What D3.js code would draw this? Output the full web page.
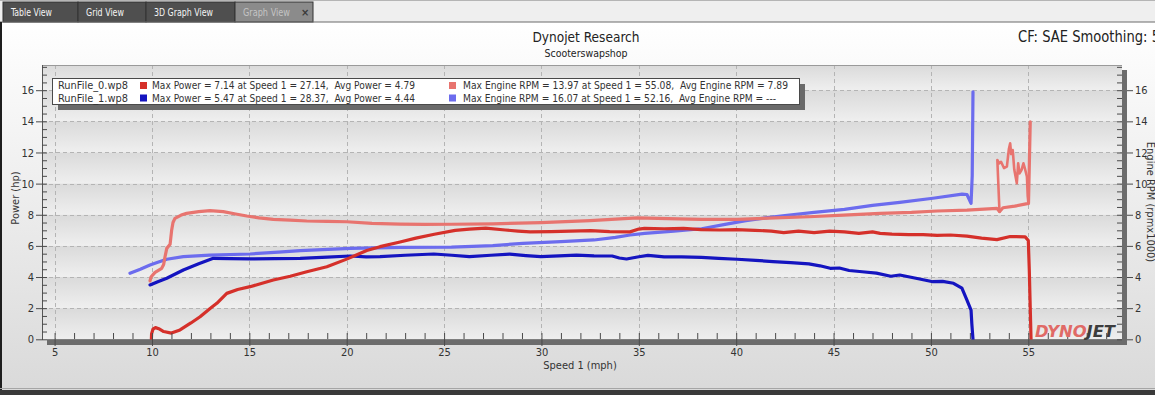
<!DOCTYPE html>
<html>
<head>
<meta charset="utf-8">
<script src="https://cdn.jsdelivr.net/npm/d3@7"></script>
<style>
  body { margin: 0; overflow: hidden; background: #fff; }
  text { font-family: "DejaVu Sans Condensed", "DejaVu Sans", sans-serif; }
  .pre { white-space: pre; }
</style>
</head>
<body>
<svg id="chart"></svg>
<script>
(function (d3) {
  'use strict';

  // ---- data ----
  var tabNames = ["Table View", "Grid View", "3D Graph View", "Graph View"];
  var xTicks = [5, 10, 15, 20, 25, 30, 35, 40, 45, 50, 55];
  var yTicks = [0, 2, 4, 6, 8, 10, 12, 14, 16];

  var run0PowerSpeed = [9.97, 9.98, 10.05, 10.18, 10.35, 10.6, 11.0, 11.44, 12.0, 12.47, 13.0, 13.33, 13.84, 14.4, 15.04, 16.23, 17.1, 17.95, 18.98, 20.0, 21.03, 21.71, 22.74, 23.55, 24.5, 25.57, 26.3, 27.14, 28.14, 28.8, 29.42, 30.5, 31.5, 32.53, 33.5, 34.55, 35.0, 35.29, 36.3, 37.3, 38.2, 39.14, 40.0, 40.97, 41.8, 42.44, 43.2, 44.0, 44.8, 45.56, 46.3, 47.0, 47.39, 48.0, 48.86, 49.6, 50.32, 51.0, 51.85, 52.6, 53.39, 54.07, 54.84, 55.0, 55.05, 55.1, 55.14];
  var run0Power      = [0.0, 0.35, 0.65, 0.75, 0.68, 0.5, 0.4, 0.6, 1.05, 1.45, 2.0, 2.31, 2.95, 3.2, 3.38, 3.81, 4.05, 4.34, 4.66, 5.15, 5.7, 5.95, 6.25, 6.5, 6.75, 7.0, 7.08, 7.14, 7.02, 6.95, 6.9, 6.92, 6.95, 6.98, 6.92, 6.9, 7.08, 7.13, 7.1, 7.13, 7.05, 7.02, 7.05, 7.0, 6.95, 6.85, 6.95, 6.85, 6.95, 6.9, 6.8, 6.9, 6.8, 6.75, 6.72, 6.72, 6.68, 6.7, 6.63, 6.5, 6.4, 6.6, 6.58, 6.35, 4.5, 2.0, 0.0];

  var run0RpmSpeed = [9.9, 9.95, 10.16, 10.5, 10.6, 10.67, 10.76, 10.93, 11.01, 11.08, 11.18, 11.5, 11.78, 12.4, 12.98, 13.66, 14.3, 14.87, 15.5, 16.23, 17.1, 17.95, 19.0, 20.0, 21.3, 22.74, 24.0, 25.38, 27.5, 29.97, 32.5, 34.91, 36.5, 38.22, 40.05, 42.0, 43.73, 45.5, 47.39, 49.0, 50.32, 51.85, 53.39, 53.52, 53.7, 54.3, 55.01, 55.1];
  var run0Rpm      = [3.75, 4.0, 4.3, 4.56, 4.8, 5.3, 5.84, 6.1, 7.0, 7.5, 7.77, 7.98, 8.09, 8.2, 8.26, 8.2, 8.05, 7.92, 7.8, 7.7, 7.65, 7.6, 7.57, 7.55, 7.45, 7.4, 7.38, 7.39, 7.42, 7.49, 7.62, 7.8, 7.75, 7.7, 7.7, 7.8, 7.87, 7.97, 8.09, 8.15, 8.24, 8.3, 8.41, 8.2, 8.45, 8.55, 8.73, 13.97];
  // the jagged loop at the end of run 0
  var run0LoopSpeed = [53.52, 53.41, 53.5, 53.6, 53.75, 53.9, 54.0, 54.07, 54.12, 54.2, 54.28, 54.41, 54.48, 54.55, 54.65, 54.75, 54.82, 54.93, 54.97, 55.01];
  var run0LoopRpm   = [8.2, 11.52, 11.3, 11.4, 11.0, 11.09, 12.2, 12.59, 11.9, 12.16, 10.9, 10.02, 11.3, 10.66, 10.87, 11.3, 11.0, 10.44, 9.2, 8.73];

  var run1PowerSpeed = [9.9, 10.3, 10.76, 11.61, 12.4, 13.15, 14.0, 15.04, 16.3, 17.61, 19.0, 20.18, 21.0, 21.71, 23.0, 24.47, 25.4, 26.3, 27.4, 28.37, 29.2, 29.97, 30.9, 31.8, 32.7, 33.63, 34.0, 34.37, 35.0, 35.47, 36.3, 37.2, 38.22, 39.1, 40.05, 41.0, 41.89, 42.8, 43.73, 44.3, 44.83, 45.3, 45.8, 46.47, 47.2, 47.94, 48.4, 49.23, 50.1, 50.6, 51.16, 51.59, 51.85, 52.06, 52.1, 52.16];
  var run1Power      = [3.49, 3.7, 3.92, 4.45, 4.85, 5.2, 5.18, 5.16, 5.18, 5.2, 5.28, 5.35, 5.3, 5.31, 5.4, 5.48, 5.4, 5.31, 5.4, 5.47, 5.38, 5.31, 5.36, 5.41, 5.36, 5.35, 5.22, 5.16, 5.3, 5.39, 5.3, 5.3, 5.26, 5.2, 5.14, 5.07, 4.99, 4.92, 4.84, 4.72, 4.56, 4.58, 4.42, 4.34, 4.25, 4.05, 4.13, 3.92, 3.7, 3.72, 3.6, 3.28, 2.52, 1.88, 1.0, 0.0];

  var run1RpmSpeed = [8.87, 9.4, 9.9, 10.3, 10.76, 11.61, 12.98, 15.04, 16.5, 17.61, 20.18, 22.74, 25.38, 27.5, 29.05, 31.0, 32.7, 33.8, 34.55, 35.3, 36.8, 38.22, 39.5, 40.5, 41.5, 42.5, 44.0, 45.56, 47.0, 48.4, 50.1, 51.6, 51.85, 52.06, 52.12, 52.16];
  var run1Rpm      = [4.24, 4.5, 4.77, 4.95, 5.14, 5.31, 5.41, 5.48, 5.6, 5.69, 5.84, 5.9, 5.92, 6.02, 6.16, 6.27, 6.38, 6.55, 6.7, 6.8, 6.95, 7.1, 7.4, 7.62, 7.8, 7.95, 8.15, 8.35, 8.6, 8.8, 9.06, 9.33, 9.3, 8.73, 10.5, 15.9];

  var legendRuns  = ["RunFile_0.wp8", "RunFile_1.wp8"];
  var legendPower = ["Max Power = 7.14 at Speed 1 = 27.14,  Avg Power = 4.79",
                     "Max Power = 5.47 at Speed 1 = 28.37,  Avg Power = 4.44"];
  var legendRpm   = ["Max Engine RPM = 13.97 at Speed 1 = 55.08,  Avg Engine RPM = 7.89",
                     "Max Engine RPM = 16.07 at Speed 1 = 52.16,  Avg Engine RPM = ---"];

  var powerColors = ["#d5302a", "#1414c0"];
  var rpmColors   = ["#e8746f", "#6c6cee"];

  function zip(xs, ys) { return xs.map(function (v, i) { return [v, ys[i]]; }); }

  // ---- layout ----
  var W = 1155, H = 395;
  var plot = { left: 42, right: 1122, top: 65, bottom: 339 };

  var svg = d3.select('#chart').attr('width', W).attr('height', H);
  var defs = svg.append('defs');

  var x = d3.scaleLinear().domain([5, 55]).range([54.6, 1028.3]);
  var y = d3.scaleLinear().domain([0, 16]).range([339.3, 90.2]);

  // page background
  var bg = defs.append('linearGradient').attr('id', 'bgGrad')
      .attr('x1', 0).attr('y1', 0).attr('x2', 0).attr('y2', 1);
  bg.append('stop').attr('offset', '0%').attr('stop-color', '#ffffff');
  bg.append('stop').attr('offset', '100%').attr('stop-color', '#d9d9d9');
  svg.append('rect').attr('x', 0).attr('y', 22).attr('width', W).attr('height', H - 22)
      .attr('fill', 'url(#bgGrad)');

  // tab bar
  svg.append('rect').attr('x', 0).attr('y', 0).attr('width', W).attr('height', 22).attr('fill', '#efefef');
  svg.append('line').attr('x1', 0).attr('x2', W).attr('y1', 0.5).attr('y2', 0.5).attr('stroke', '#b5b5b5');
  var tabW = [75, 68, 89, 78];
  var tabTextW = [41, 38, 59, 47];
  var tx = 3;
  tabNames.forEach(function (name, i) {
    var sel = i === tabNames.length - 1;
    var g = svg.append('g').attr('transform', 'translate(' + tx + ',2)');
    g.append('rect').attr('width', tabW[i]).attr('height', 20)
        .attr('fill', sel ? '#8b8b8b' : '#4f4f4f').attr('stroke', '#333');
    g.append('text').attr('x', 8).attr('y', 14).attr('font-size', 10.5)
        .attr('textLength', tabTextW[i]).attr('lengthAdjust', 'spacingAndGlyphs')
        .attr('fill', sel ? '#c4c4c4' : '#f4f4f4').text(name);
    if (sel) {
      g.append('text').attr('x', tabW[i] - 12).attr('y', 14).attr('font-size', 11)
          .attr('font-weight', 'bold').attr('fill', '#3a3a3a').text('\u00d7');
    }
    tx += tabW[i];
  });
  svg.append('line').attr('x1', 0).attr('x2', W).attr('y1', 22).attr('y2', 22).attr('stroke', '#6a6a6a');

  // left frame + bottom bar
  svg.append('rect').attr('x', 0).attr('y', 22).attr('width', 2).attr('height', H - 22).attr('fill', '#1e1e1e');
  svg.append('line').attr('x1', 0).attr('x2', W).attr('y1', 388.5).attr('y2', 388.5).attr('stroke', '#a5a5a5');
  svg.append('rect').attr('x', 0).attr('y', 390).attr('width', W).attr('height', 5).attr('fill', '#3a3a3a');

  // titles
  svg.append('text').attr('x', 586).attr('y', 42).attr('text-anchor', 'middle')
      .attr('font-size', 14).attr('fill', '#222')
      .attr('textLength', 107).attr('lengthAdjust', 'spacingAndGlyphs').text('Dynojet Research');
  svg.append('text').attr('x', 586).attr('y', 57).attr('text-anchor', 'middle')
      .attr('font-size', 11).attr('fill', '#222')
      .attr('textLength', 83).attr('lengthAdjust', 'spacingAndGlyphs').text('Scooterswapshop');
  svg.append('text').attr('x', 1018).attr('y', 42)
      .attr('font-size', 15).attr('fill', '#222')
      .attr('textLength', 142).attr('lengthAdjust', 'spacingAndGlyphs').text('CF: SAE Smoothing: 5');

  // plot shadow + background bands
  svg.append('rect').attr('x', plot.left + 5).attr('y', plot.top + 5)
      .attr('width', plot.right - plot.left).attr('height', plot.bottom - plot.top + 1)
      .attr('fill', '#6c6c6c');
  svg.append('rect').attr('x', plot.left).attr('y', plot.top)
      .attr('width', plot.right - plot.left).attr('height', plot.bottom - plot.top)
      .attr('fill', '#e6e6e6');

  var band = defs.append('linearGradient').attr('id', 'bandGrad')
      .attr('x1', 0).attr('y1', 0).attr('x2', 0).attr('y2', 1);
  band.append('stop').attr('offset', '0%').attr('stop-color', '#dadada');
  band.append('stop').attr('offset', '100%').attr('stop-color', '#efefef');
  var bandEdges = yTicks.concat([y.invert(plot.top)]);
  svg.append('g').selectAll('rect').data(bandEdges.slice(0, -1)).enter().append('rect')
      .attr('x', plot.left).attr('width', plot.right - plot.left)
      .attr('y', function (d, i) { return y(bandEdges[i + 1]); })
      .attr('height', function (d, i) { return y(d) - y(bandEdges[i + 1]); })
      .attr('fill', 'url(#bandGrad)');

  // grid
  var grid = svg.append('g').attr('stroke', '#b4b4b4').attr('stroke-dasharray', '4,3').attr('stroke-width', 1);
  grid.selectAll('.gx').data(xTicks).enter().append('line')
      .attr('x1', function (d) { return Math.round(x(d)) + 0.5; })
      .attr('x2', function (d) { return Math.round(x(d)) + 0.5; })
      .attr('y1', plot.top).attr('y2', plot.bottom);
  grid.selectAll('.gy').data(yTicks.slice(1)).enter().append('line')
      .attr('y1', function (d) { return Math.round(y(d)) + 0.5; })
      .attr('y2', function (d) { return Math.round(y(d)) + 0.5; })
      .attr('x1', plot.left).attr('x2', plot.right);

  // top border of plot
  svg.append('line').attr('x1', plot.left).attr('x2', plot.right)
      .attr('y1', plot.top + 0.5).attr('y2', plot.top + 0.5).attr('stroke', '#9a9a9a');

  // curves
  defs.append('clipPath').attr('id', 'plotClip').append('rect')
      .attr('x', plot.left).attr('y', plot.top)
      .attr('width', plot.right - plot.left).attr('height', plot.bottom - plot.top + 2);
  var line = d3.line().x(function (d) { return x(d[0]); }).y(function (d) { return y(d[1]); })
      .curve(d3.curveLinear);
  var curves = svg.append('g').attr('clip-path', 'url(#plotClip)')
      .attr('fill', 'none').attr('stroke-width', 3.2)
      .attr('stroke-linejoin', 'round').attr('stroke-linecap', 'round');

  curves.append('path').datum(zip(run1RpmSpeed, run1Rpm)).attr('d', line).attr('stroke', rpmColors[1]);
  curves.append('path').datum(zip(run0RpmSpeed, run0Rpm)).attr('d', line).attr('stroke', rpmColors[0]);
  curves.append('path').datum(zip(run0LoopSpeed, run0LoopRpm)).attr('d', line).attr('stroke', rpmColors[0])
      .attr('stroke-width', 2.6);
  curves.append('path').datum(zip(run1PowerSpeed, run1Power)).attr('d', line).attr('stroke', powerColors[1]);
  curves.append('path').datum(zip(run0PowerSpeed, run0Power)).attr('d', line).attr('stroke', powerColors[0]);

  // bottom shadow bar drawn over line ends
  svg.append('rect').attr('x', plot.left + 5).attr('y', plot.bottom + 0.5)
      .attr('width', plot.right - plot.left).attr('height', 5.5).attr('fill', '#6c6c6c');
  svg.append('rect').attr('x', plot.right).attr('y', plot.top + 5)
      .attr('width', 5).attr('height', plot.bottom - plot.top).attr('fill', '#6c6c6c');

  // axes
  function styleAxis(g) {
    g.select('.domain').remove();
    g.selectAll('.tick line').attr('stroke', '#4a4a4a');
    g.selectAll('.tick text').attr('fill', '#333').attr('font-size', 11)
        .attr('font-family', '"DejaVu Sans Condensed", "DejaVu Sans", sans-serif');
  }
  var minorX = d3.range(5, 60, 1);
  var minorY = d3.range(0, 17.6, 0.5);

  svg.append('g').attr('transform', 'translate(0,' + plot.bottom + ')')
      .call(d3.axisBottom(x).tickValues(minorX).tickSize(-6).tickFormat(''))
      .call(styleAxis);
  svg.append('g').attr('transform', 'translate(0,' + plot.bottom + ')')
      .call(d3.axisBottom(x).tickValues(xTicks).tickSize(7).tickPadding(2).tickFormat(d3.format('d')))
      .call(styleAxis);

  svg.append('line').attr('x1', plot.left + 0.5).attr('x2', plot.left + 0.5)
      .attr('y1', plot.top).attr('y2', plot.bottom + 1).attr('stroke', '#555');
  svg.append('g').attr('transform', 'translate(' + plot.left + ',0)')
      .call(d3.axisLeft(y).tickValues(minorY).tickSize(-5).tickFormat(''))
      .call(styleAxis);
  svg.append('g').attr('transform', 'translate(' + plot.left + ',0)')
      .call(d3.axisLeft(y).tickValues(yTicks).tickSize(6).tickPadding(2).tickFormat(d3.format('d')))
      .call(styleAxis);

  svg.append('g').attr('transform', 'translate(' + plot.right + ',0)')
      .call(d3.axisRight(y).tickValues(minorY).tickSize(-5).tickFormat(''))
      .call(styleAxis);
  svg.append('g').attr('transform', 'translate(' + (plot.right + 5) + ',0)')
      .call(d3.axisRight(y).tickValues(yTicks).tickSize(6).tickPadding(2).tickFormat(d3.format('d')))
      .call(styleAxis);

  // axis titles
  svg.append('text').attr('x', 580).attr('y', 369).attr('text-anchor', 'middle')
      .attr('font-size', 11).attr('fill', '#333').text('Speed 1 (mph)');
  svg.append('text').attr('transform', 'translate(19,198) rotate(-90)').attr('text-anchor', 'middle')
      .attr('font-size', 11).attr('fill', '#333').text('Power (hp)');
  svg.append('text').attr('transform', 'translate(1147,202) rotate(90)').attr('text-anchor', 'middle')
      .attr('font-size', 11).attr('fill', '#333').text('Engine RPM (rpmx1000)');

  // legend
  var lg = svg.append('g');
  lg.append('rect').attr('x', 58).attr('y', 84).attr('width', 747).attr('height', 26).attr('fill', '#6a6a6a');
  lg.append('rect').attr('x', 52.5).attr('y', 78.5).attr('width', 747).attr('height', 26)
      .attr('fill', '#fff').attr('stroke', '#4a4a4a');
  legendRuns.forEach(function (name, i) {
    var yy = 89 + i * 12.5;
    lg.append('text').attr('x', 58).attr('y', yy).attr('font-size', 11).attr('fill', '#333')
        .attr('textLength', 70).attr('lengthAdjust', 'spacingAndGlyphs').text(name);
    lg.append('rect').attr('x', 140).attr('y', yy - 7).attr('width', 7).attr('height', 7).attr('fill', powerColors[i]);
    lg.append('text').attr('class', 'pre').attr('x', 152).attr('y', yy).attr('font-size', 11)
        .attr('textLength', 263).attr('lengthAdjust', 'spacingAndGlyphs')
        .attr('fill', '#333').text(legendPower[i]);
    lg.append('rect').attr('x', 449).attr('y', yy - 7).attr('width', 7).attr('height', 7).attr('fill', rpmColors[i]);
    lg.append('text').attr('class', 'pre').attr('x', 463).attr('y', yy).attr('font-size', 11)
        .attr('textLength', i === 0 ? 325 : 313).attr('lengthAdjust', 'spacingAndGlyphs')
        .attr('fill', '#333').text(legendRpm[i]);
  });

  // logo
  var logo = svg.append('text').attr('x', 1035).attr('y', 337).attr('font-size', 15)
      .attr('font-weight', 'bold').attr('font-style', 'italic')
      .attr('font-family', '"DejaVu Sans", sans-serif')
      .attr('textLength', 80).attr('lengthAdjust', 'spacingAndGlyphs');
  logo.append('tspan').attr('fill', '#e06a66').text('DYNO');
  logo.append('tspan').attr('fill', '#3d3d3d').text('JET');

}(d3));
</script>
</body>
</html>
